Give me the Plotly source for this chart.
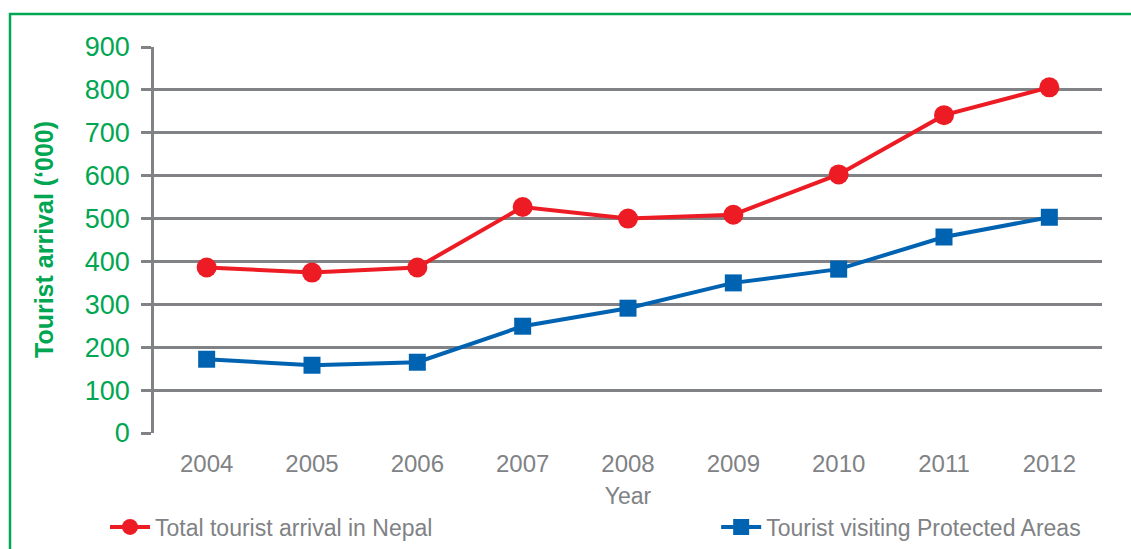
import plotly.graph_objects as go

years = ["2004", "2005", "2006", "2007", "2008", "2009", "2010", "2011", "2012"]
total_arrival = [386, 374, 386, 527, 500, 509, 603, 741, 806]
protected_areas = [172, 158, 165, 249, 291, 350, 382, 457, 503]
y_ticks = [0, 100, 200, 300, 400, 500, 600, 700, 800, 900]

RED = "#ED1C24"
BLUE = "#0063B1"
GREEN = "#00A651"
GREY = "#808285"
FONT = "Liberation Sans, Arial, sans-serif"

fig = go.Figure()
fig.add_trace(go.Scatter(
    x=years, y=total_arrival, mode="lines+markers",
    name="Total tourist arrival in Nepal",
    line=dict(color=RED, width=4),
    marker=dict(symbol="circle", size=20, color=RED),
    legend="legend", showlegend=True,
))
fig.add_trace(go.Scatter(
    x=years, y=protected_areas, mode="lines+markers",
    name="Tourist visiting Protected Areas",
    line=dict(color=BLUE, width=4),
    marker=dict(symbol="square", size=17, color=BLUE),
    legend="legend2", showlegend=True,
))

legend_style = dict(
    y=-0.2435, xanchor="left", yanchor="middle",
    orientation="h", font=dict(size=23, color=GREY),
    bgcolor="rgba(0,0,0,0)", itemwidth=40,
)

fig.update_layout(
    width=1131, height=549,
    showlegend=True,
    margin=dict(l=154, r=29, t=47, b=116, autoexpand=False),
    paper_bgcolor="white", plot_bgcolor="white",
    font=dict(family=FONT, color=GREY),
    xaxis=dict(
        type="category", range=[-0.5, len(years) - 0.5],
        showgrid=False, showline=False, zeroline=False,
        ticks="", tickfont=dict(size=24, color=GREY), ticklabelstandoff=14,
        automargin=False,
        title=dict(text="Year", font=dict(size=23, color=GREY), standoff=11),
    ),
    yaxis=dict(
        range=[0, 900], tickvals=y_ticks, automargin=False,
        showgrid=True, gridcolor=GREY, gridwidth=2.5,
        zeroline=False, showline=True, linecolor=GREY, linewidth=2.5,
        ticks="outside", ticklen=10, tickwidth=2.5, tickcolor=GREY,
        ticklabelstandoff=6,
        tickfont=dict(size=27, color=GREEN),
    ),
    legend=dict(x=-0.0517, **legend_style),
    legend2=dict(x=0.593, **legend_style),
    annotations=[dict(
        text="<b>Tourist arrival (‘000)</b>", textangle=-90,
        xref="paper", yref="paper", x=-0.116, y=0.5,
        xanchor="center", yanchor="middle", showarrow=False,
        font=dict(size=25, color=GREEN, family=FONT),
    )],
    shapes=[dict(
        type="rect", xref="paper", yref="paper",
        x0=-0.1519, x1=1.2, y0=-0.6, y1=1.0855,
        line=dict(color=GREEN, width=2.5), layer="below",
    )],
)

fig.write_html("out.html")
